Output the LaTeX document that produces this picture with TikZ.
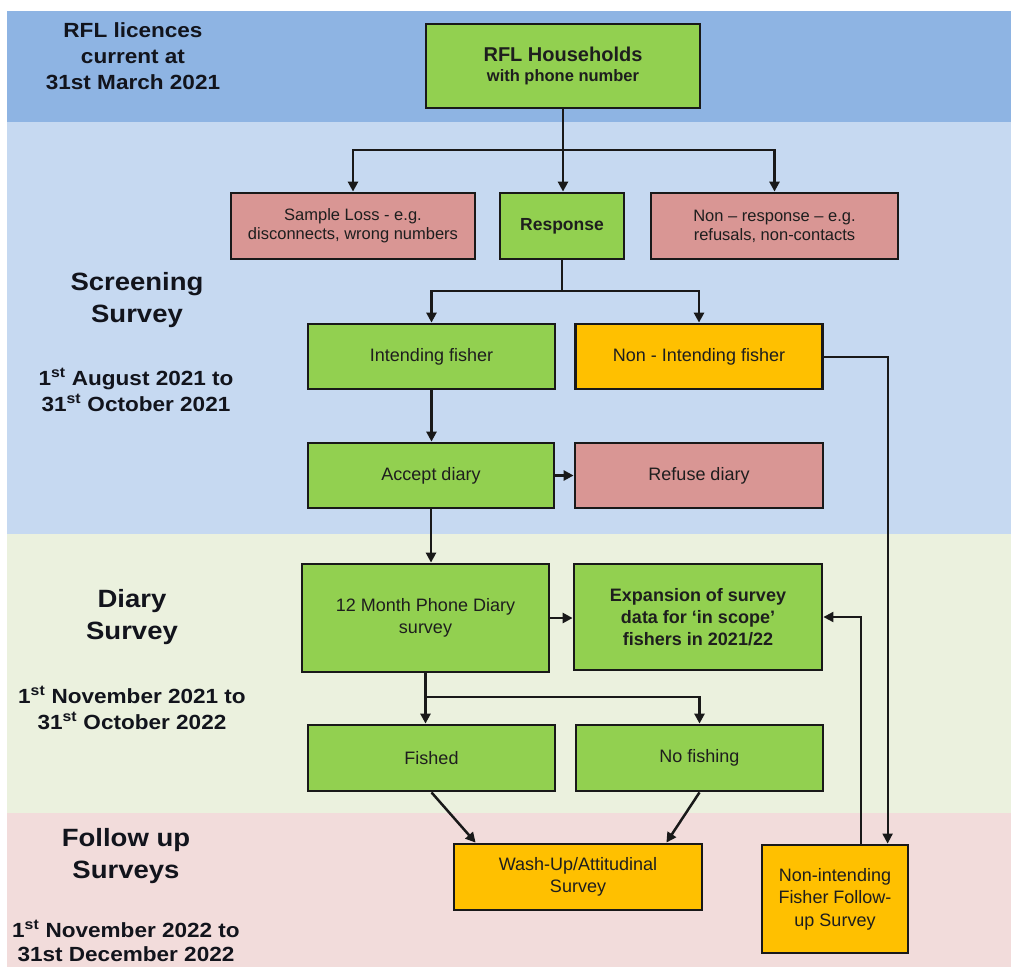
\documentclass[tikz,border=0pt]{standalone}
\usepackage{fontspec}
\setmainfont{Liberation Sans}
\newfontfamily\titlefont[FakeStretch=1.1]{Liberation Sans}
\usetikzlibrary{arrows.meta,calc}
\definecolor{bandA}{HTML}{8EB4E3}
\definecolor{bandB}{HTML}{C6D9F1}
\definecolor{bandC}{HTML}{EBF1DE}
\definecolor{bandD}{HTML}{F2DCDB}
\definecolor{boxgreen}{HTML}{92D050}
\definecolor{boxred}{HTML}{D99694}
\definecolor{boxorange}{HTML}{FFC000}
\definecolor{txt}{HTML}{1E1E1E}
\definecolor{ttl}{HTML}{12141C}
\tikzset{
  box/.style={draw=black!90, line width=2.8pt, inner sep=2pt, align=center, text=txt,
    font=\fontsize{18}{22}\selectfont},
  gbox/.style={box, fill=boxgreen},
  rbox/.style={box, fill=boxred},
  obox/.style={box, fill=boxorange},
  conn/.style={line width=2.5pt, draw=black!90},
  arr/.style={conn, -{Triangle[length=10pt,width=10pt]}},
  title/.style={anchor=north, align=center, text=ttl, inner sep=0pt,
    font=\titlefont\bfseries\fontsize{25}{32}\selectfont},
  datetxt/.style={title, font=\titlefont\bfseries\fontsize{20.5}{26}\selectfont}
}
\begin{document}
\begin{tikzpicture}[x=1pt,y=-1pt]
\path[use as bounding box] (0,0) rectangle (1011,967);
\fill[white] (0,0) rectangle (1011,967);
\fill[bandA] (7,11) rectangle (1011,122);
\fill[bandB] (7,122) rectangle (1011,534);
\fill[bandC] (7,534) rectangle (1011,813);
\fill[bandD] (7,813) rectangle (1011,967);

% left titles
\node[datetxt] (t1) at (133,22) {RFL licences\\current at\\31st March 2021};
\node[title] (t2) at (137,272.5) {Screening\\Survey};
\node[datetxt] (t3) at (136,368) {1\textsuperscript{st} August 2021 to\\31\textsuperscript{st} October 2021};
\node[title] (t4) at (132,589) {Diary\\Survey};
\node[datetxt] (t5) at (132,686) {1\textsuperscript{st} November 2021 to\\31\textsuperscript{st} October 2022};
\node[title] (t6) at (126,828) {Follow up\\Surveys};
\node[datetxt, font=\titlefont\bfseries\fontsize{20.5}{24.5}\selectfont] (t7) at (126,920) {1\textsuperscript{st} November 2022 to\\31st December 2022};

% boxes
\node[gbox, minimum width=274, minimum height=84, font=\bfseries\fontsize{16.5}{20}\selectfont] (rfl) at (563,66)
  {{\fontsize{20}{20}\selectfont RFL Households}\\with phone number};
\node[rbox, minimum width=244, minimum height=66, font=\fontsize{16.5}{19}\selectfont] (loss) at (353,226)
  {Sample Loss - e.g.\\disconnects, wrong numbers};
\node[gbox, minimum width=124, minimum height=66, font=\bfseries\fontsize{17.5}{21}\selectfont] (resp) at (562,226) {Response};
\node[rbox, minimum width=247, minimum height=66, font=\fontsize{16.5}{19}\selectfont] (nonresp) at (774.5,226)
  {Non -- response -- e.g.\\refusals, non-contacts};
\node[gbox, minimum width=247, minimum height=65] (intend) at (431.5,356.5) {Intending fisher};
\node[obox, minimum width=247, minimum height=65] (nonint) at (699,356.5) {Non - Intending fisher};
\node[gbox, minimum width=246, minimum height=65] (accept) at (431,475.5) {Accept diary};
\node[rbox, minimum width=248, minimum height=65] (refuse) at (699,475.5) {Refuse diary};
\node[gbox, minimum width=247, minimum height=108] (diary) at (425.5,618) {12 Month Phone Diary\\survey};
\node[gbox, minimum width=248, minimum height=106, font=\bfseries\fontsize{18}{22}\selectfont] (expand) at (698,617)
  {Expansion of survey\\data for ‘in scope’\\fishers in 2021/22};
\node[gbox, minimum width=247, minimum height=66] (fished) at (431.5,758) {Fished};
\node[gbox, minimum width=247, minimum height=66] (nofish) at (699.5,758) {No fishing};
\node[obox, minimum width=248, minimum height=66] (wash) at (578,877) {Wash-Up/Attitudinal\\Survey};
\node[obox, minimum width=146, minimum height=108, font=\fontsize{18}{22.5}\selectfont] (nifollow) at (835,899)
  {Non-intending\\Fisher Follow-\\up Survey};

% junction levels
\coordinate (j1) at (0,150);
\coordinate (j2) at (0,291);
\coordinate (j3) at (0,697);

% connectors
\draw[arr] (rfl.south) -- (rfl.south |- resp.north);
\draw[arr] (rfl.south |- j1) -| (loss.north);
\draw[arr] (rfl.south |- j1) -| (nonresp.north);
\draw[conn] (resp.south) -- (resp.south |- j2);
\draw[arr] (resp.south |- j2) -| (intend.north);
\draw[arr] (resp.south |- j2) -| (nonint.north);
\draw[arr] (intend.south) -- (intend.south |- accept.north);
\draw[arr] (accept.east) -- (refuse.west);
\draw[arr] (accept.south) -- (accept.south |- diary.north);
\draw[arr] (diary.east) -- (diary.east -| expand.west);
\draw[arr] (diary.south) -- (diary.south |- fished.north);
\draw[arr] (diary.south |- j3) -| (nofish.north);
\draw[arr] (fished.south) -- ($(wash.north west)+(23,0)$);
\draw[arr] (nofish.south) -- ($(wash.north east)+(-37,0)$);
\draw[arr, line width=2pt] (nonint.east) -| ($(nifollow.north west)+(127,0)$);
\draw[arr, line width=2pt] ($(nifollow.north west)+(100,0)$) |- (expand.east);
\end{tikzpicture}
\end{document}
